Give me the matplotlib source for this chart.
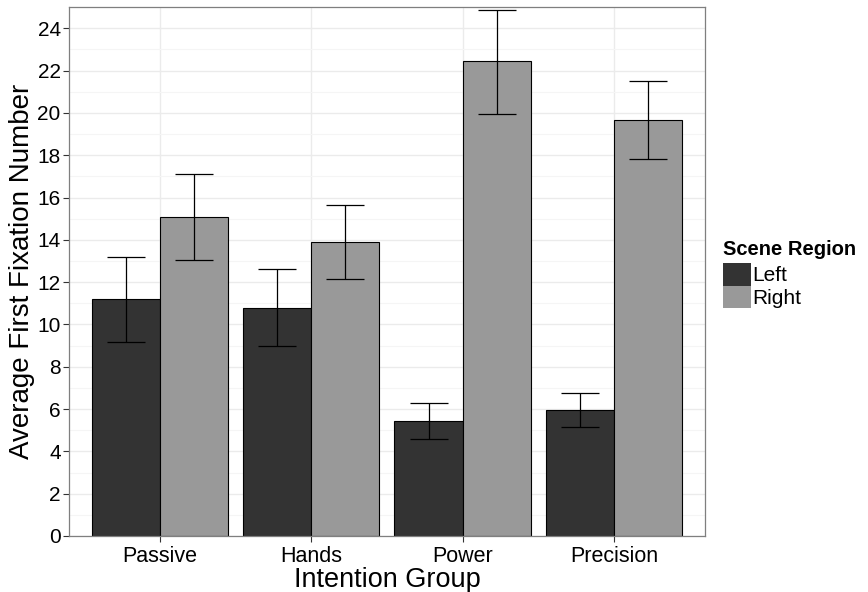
import matplotlib.pyplot as plt
import numpy as np

plt.rcParams['font.family'] = ['Liberation Sans', 'DejaVu Sans']

groups = ['Passive', 'Hands', 'Power', 'Precision']
left_mean = [11.2, 10.8, 5.45, 5.95]
left_lo = [9.15, 9.0, 4.6, 5.15]
left_hi = [13.2, 12.6, 6.3, 6.75]
right_mean = [15.1, 13.9, 22.45, 19.65]
right_lo = [13.05, 12.15, 19.95, 17.8]
right_hi = [17.1, 15.65, 24.85, 21.5]

fig = plt.figure(figsize=(8.68, 5.92), dpi=100)
ax = fig.add_axes([0.0795, 0.0946, 0.7325, 0.8934])

x = np.arange(1, len(groups) + 1)
w = 0.45

def draw(pos, mean, lo, hi, color, label):
    ax.bar(pos, mean, width=w, color=color, edgecolor='black', linewidth=0.8,
           label=label, zorder=2)
    mean = np.array(mean)
    yerr = [mean - np.array(lo), np.array(hi) - mean]
    ax.errorbar(pos, mean, yerr=yerr, fmt='none', ecolor='black',
                elinewidth=0.9, capsize=13.5, capthick=0.9, zorder=3)

draw(x - w / 2, left_mean, left_lo, left_hi, '#333333', 'Left')
draw(x + w / 2, right_mean, right_lo, right_hi, '#999999', 'Right')

ax.set_xlim(0.4, 4.6)
ax.set_ylim(0, 25)
ax.set_xticks(x)
ax.set_xticklabels(groups, fontsize=15.5)
ax.set_yticks(np.arange(0, 25, 2))
ax.set_yticks(np.arange(1, 25, 2), minor=True)
ax.tick_params(axis='y', labelsize=15, colors='black', length=4, color='#333333', pad=2)
ax.tick_params(axis='x', length=4, color='#333333', pad=3)
ax.tick_params(axis='y', which='minor', length=0)

ax.grid(which='major', color='#ebebeb', linewidth=1.0, zorder=0)
ax.grid(which='minor', axis='y', color='#f5f5f5', linewidth=0.8, zorder=0)
ax.set_axisbelow(True)
for s in ax.spines.values():
    s.set_color('#7f7f7f')
    s.set_linewidth(0.9)

ax.set_xlabel('Intention Group', fontsize=19.5, labelpad=0)
ax.set_ylabel('Average First Fixation Number', fontsize=20, labelpad=2)

leg = ax.legend(title='Scene Region', loc='center left', bbox_to_anchor=(1.013, 0.495),
                frameon=False, fontsize=15, handlelength=1.3, handleheight=1.3,
                handletextpad=0.1, labelspacing=0.0, borderpad=0.0)
leg.get_title().set_fontweight('bold')
leg.get_title().set_fontsize(14.5)
leg._legend_box.align = 'left'
leg._legend_box.sep = 3
for p in leg.get_patches():
    p.set_edgecolor('none')

fig.savefig('out.png', dpi=100)
